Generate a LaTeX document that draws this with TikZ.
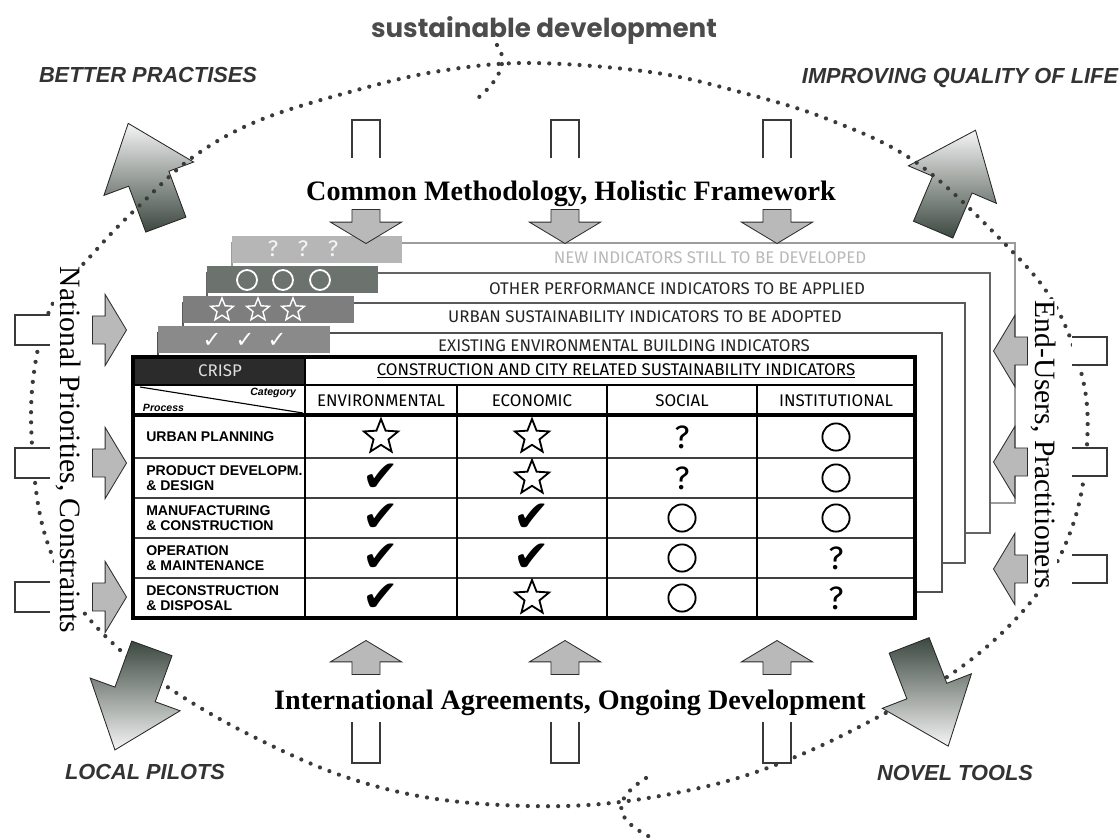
\documentclass[tikz,border=0pt]{standalone}
\usepackage{fontspec}
\setmainfont{Liberation Serif}
\newfontfamily\labelfont{Liberation Sans}
\newfontfamily\handfont{Fira Sans}
\newfontfamily\titlefont{Poppins}
\newfontfamily\symfont{DejaVu Sans}
\usetikzlibrary{shapes.arrows,shapes.geometric}

\definecolor{arrowdark}{HTML}{3C4840}
\definecolor{ringgray}{HTML}{3A3A3A}
\definecolor{crispfill}{HTML}{2B2B2B}
\definecolor{tabone}{HTML}{8A8A8A}
\definecolor{tabtwo}{HTML}{7E7E7E}
\definecolor{tabthree}{HTML}{6C726D}
\definecolor{tabfour}{HTML}{B6B6B6}
\definecolor{edgeone}{HTML}{505050}
\definecolor{edgetwo}{HTML}{5A5A5A}
\definecolor{edgethree}{HTML}{646464}
\definecolor{edgefour}{HTML}{9C9C9C}

\tikzset{
  bigarrow/.style={single arrow, draw=black!85, line width=0.6pt, inner xsep=0pt, inner ysep=0.525cm,
    minimum height=2.7cm, single arrow head extend=0.66cm, single arrow tip angle=78},
  upshade/.style={top color=gray!8, bottom color=arrowdark},
  downshade/.style={top color=arrowdark, bottom color=gray!8},
  grayarrow/.style={single arrow, draw=gray!35!black, line width=0.6pt, fill=gray!55,
    inner xsep=0pt, inner ysep=0.34cm, minimum height=0.85cm,
    single arrow head extend=0.54cm, single arrow tip angle=118},
  ringdots/.style={draw=ringgray, line width=3pt, line cap=round, dash pattern=on 0pt off 7.2pt},
  tailbox/.style={draw=gray!45!black, line width=1.1pt},
  sheetframe/.style={fill=white, line width=2pt},
  cornerlabel/.style={font=\labelfont\bfseries\itshape\fontsize{15.5}{18}\selectfont, text=black!80},
  bandtext/.style={font=\bfseries\fontsize{20}{24}\selectfont},
  sidetext/.style={font=\fontsize{21}{24}\selectfont, rotate=-90, fill=white, inner sep=1pt},
  sheetlabel/.style={font=\handfont\fontsize{12}{14}\selectfont, text=black!85},
  headlabel/.style={font=\handfont\fontsize{12}{14}\selectfont},
  rowlabel/.style={font=\labelfont\bfseries\fontsize{10}{10.5}\selectfont, align=left, anchor=west, inner sep=0pt},
  rowline/.style={draw=black!75, line width=1.3pt},
  mstar/.style={star, star points=5, star point ratio=2.3, draw, line width=1.3pt, minimum size=0.9cm, inner sep=0pt},
  mring/.style={circle, draw, line width=1.3pt, minimum size=0.68cm, inner sep=0pt},
  mcheck/.style={font=\symfont\fontsize{31}{31}\selectfont, inner sep=0pt, execute at begin node={✔}},
  mask/.style={font=\handfont\fontsize{23}{23}\selectfont, inner sep=0pt, execute at begin node={?}},
  tstar/.style={star, star points=5, star point ratio=2.3, draw=white, line width=1pt, minimum size=0.6cm, inner sep=0pt},
  tring/.style={circle, draw=white, line width=1.3pt, minimum size=0.5cm, inner sep=0pt},
  tcheck/.style={font=\symfont\bfseries\fontsize{16}{16}\selectfont, text=white, inner sep=0pt, execute at begin node={✓}},
  task/.style={font=\handfont\fontsize{16}{16}\selectfont, text=gray!8, inner sep=0pt, execute at begin node={?}}
}

\begin{document}
\begin{tikzpicture}[x=0.025cm,y=-0.025cm]
\useasboundingbox (0,0) rectangle (1120,837);

% upper corner arrows sit under the ring
\node[bigarrow, upshade, rotate=110.4, anchor=tail] (betterArrow) at (166,225) {};
\node[bigarrow, upshade, rotate=66.9, anchor=tail] (qualityArrow) at (933,230) {};

% indicator sheets, back to front
\draw[sheetframe, draw=edgefour] (232,243) rectangle (1015,503);
\fill[tabfour] (232,236) rectangle (402,263);
\node[sheetlabel, text=gray!55] (newInd) at (710,258) {NEW INDICATORS STILL TO BE DEVELOPED};
\foreach \x [count=\i] in {273,303,333} \node[task] (tabask\i) at (\x,249) {};

\draw[sheetframe, draw=edgethree] (207,273) rectangle (990,533);
\fill[tabthree] (207,266) rectangle (378,293);
\node[sheetlabel] (otherInd) at (677,289) {OTHER PERFORMANCE INDICATORS TO BE APPLIED};
\foreach \x [count=\i] in {247,283,320} \node[tring] (tabring\i) at (\x,280) {};

\draw[sheetframe, draw=edgetwo] (183,303) rectangle (965,563);
\fill[tabtwo] (183,296) rectangle (354,323);
\node[sheetlabel] (urbanInd) at (645,317) {URBAN SUSTAINABILITY INDICATORS TO BE ADOPTED};
\foreach \x [count=\i] in {222,258,293} \node[tstar] (tabstar\i) at (\x,310) {};

\draw[sheetframe, draw=edgeone] (158,333) rectangle (942,592);
\fill[tabone] (158,326) rectangle (330,353);
\node[sheetlabel] (existInd) at (624,346) {EXISTING ENVIRONMENTAL BUILDING INDICATORS};
\foreach \x [count=\i] in {212,245,277} \node[tcheck] (tabcheck\i) at (\x,340) {};

% the CRISP table
\fill[white] (133,357) rectangle (915,618);
\fill[crispfill] (133,357) rectangle (305,385);
\draw[line width=1.6pt] (133,385) -- (915,385);
\draw[line width=2.2pt] (133,415) -- (915,415);
\foreach \y in {458,498,538,578} \draw[rowline] (133,\y) -- (915,\y);
\draw[line width=2pt] (305,357) -- (305,618);
\foreach \x in {457,607,757} \draw[line width=1.5pt] (\x,385) -- (\x,618);
\draw[line width=0.8pt] (140,387) -- (303,413);
\draw[line width=2.4pt] (133,357) rectangle (915,618);

\node[headlabel, text=gray!25] (crisp) at (220,371) {CRISP};
\node[headlabel] (crispHead) at (616,371) {\underline{CONSTRUCTION AND CITY RELATED SUSTAINABILITY INDICATORS}};
\node[font=\labelfont\bfseries\itshape\fontsize{7.5}{8}\selectfont, anchor=east] (category) at (301,393) {Category};
\node[font=\labelfont\bfseries\itshape\fontsize{7.5}{8}\selectfont, anchor=west] (process) at (138,408) {Process};
\node[headlabel] (envHead) at (381,401) {ENVIRONMENTAL};
\node[headlabel] (ecoHead) at (532,401) {ECONOMIC};
\node[headlabel] (socHead) at (682,401) {SOCIAL};
\node[headlabel] (insHead) at (836,401) {INSTITUTIONAL};

\node[rowlabel] (rowUrban) at (146,437) {URBAN PLANNING};
\node[rowlabel] (rowProduct) at (146,478) {PRODUCT DEVELOPM.\\\& DESIGN};
\node[rowlabel] (rowManu) at (146,518) {MANUFACTURING\\\& CONSTRUCTION};
\node[rowlabel] (rowOper) at (146,558) {OPERATION\\\& MAINTENANCE};
\node[rowlabel] (rowDecon) at (146,598) {DECONSTRUCTION\\\& DISPOSAL};

\foreach \y/\a/\b/\c/\d [count=\r] in {437/star/star/ask/ring, 478/check/star/ask/ring,
    518/check/check/ring/ring, 558/check/check/ring/ask, 598/check/star/ring/ask} {
  \node[m\a] (env\r) at (381,\y) {};
  \node[m\b] (eco\r) at (532,\y) {};
  \node[m\c] (soc\r) at (682,\y) {};
  \node[m\d] (ins\r) at (836,\y) {};
}

% the dotted ring
\draw[ringdots] plot[smooth cycle, tension=0.6] coordinates {
  (530,63) (650,72) (740,92) (830,120) (917,163) (1006,245) (1055,305) (1083,380)
  (1087,445) (1076,515) (1048,578) (1005,630) (950,675) (880,716) (800,755) (720,783)
  (620,802) (530,806) (430,798) (340,775) (250,735) (175,692) (120,650) (75,600)
  (45,535) (33,460) (33,380) (52,305) (98,248) (140,205) (193,157) (260,120)
  (357,90) (440,71)};
\draw[ringdots] (497,45) .. controls (510,62) and (497,82) .. (478,98);
\draw[ringdots] (646,778) .. controls (612,800) and (612,818) .. (652,838);

% lower corner arrows sit over the ring
\node[bigarrow, downshade, rotate=-110, anchor=tail] (pilotArrow) at (152,648) {};
\node[bigarrow, downshade, rotate=-68.8, anchor=tail] (toolArrow) at (909,645) {};

% inputs from four sides
\foreach \x [count=\i] in {366,565,777} {
  \fill[white] (\x-14,120) rectangle (\x+14,158);
  \draw[tailbox] (\x-14,158) -- (\x-14,120) -- (\x+14,120) -- (\x+14,158);
  \node[grayarrow, rotate=-90, anchor=tip] (down\i) at (\x,244) {};
  \fill[white] (\x-14,722) rectangle (\x+14,763);
  \draw[tailbox] (\x-14,722) -- (\x-14,763) -- (\x+14,763) -- (\x+14,722);
  \node[grayarrow, rotate=90, anchor=tip] (up\i) at (\x,640) {};
}
\foreach \y [count=\i] in {330,463,597} {
  \fill[white] (15,\y-15) rectangle (50,\y+15);
  \draw[tailbox] (50,\y-15) -- (15,\y-15) -- (15,\y+15) -- (50,\y+15);
  \node[grayarrow, anchor=tip] (fromLeft\i) at (127,\y) {};
}
\foreach \y [count=\i] in {351,462,569} {
  \fill[white] (1072,\y-14) rectangle (1107,\y+14);
  \draw[tailbox] (1072,\y-14) -- (1107,\y-14) -- (1107,\y+14) -- (1072,\y+14);
  \node[grayarrow, rotate=180, anchor=tip] (fromRight\i) at (993,\y) {};
}

% texts
\node[font=\titlefont\bfseries\fontsize{18.6}{20}\selectfont, text=black!70] (sustain) at (544,30) {sustainable development};
\node[cornerlabel] (better) at (148,75) {BETTER PRACTISES};
\node[cornerlabel] (quality) at (960,78) {IMPROVING QUALITY OF LIFE};
\node[cornerlabel] (pilots) at (145,772) {LOCAL PILOTS};
\node[cornerlabel] (tools) at (955,773) {NOVEL TOOLS};
\node[bandtext, anchor=base] (method) at (571,200) {Common Methodology, Holistic Framework};
\node[bandtext, anchor=base] (agree) at (570,709) {International Agreements, Ongoing Development};
\node[sidetext] (national) at (68,450) {National Priorities, Constraints};
\node[sidetext] (endusers) at (1043,445) {End-Users, Practitioners};
\end{tikzpicture}
\end{document}
